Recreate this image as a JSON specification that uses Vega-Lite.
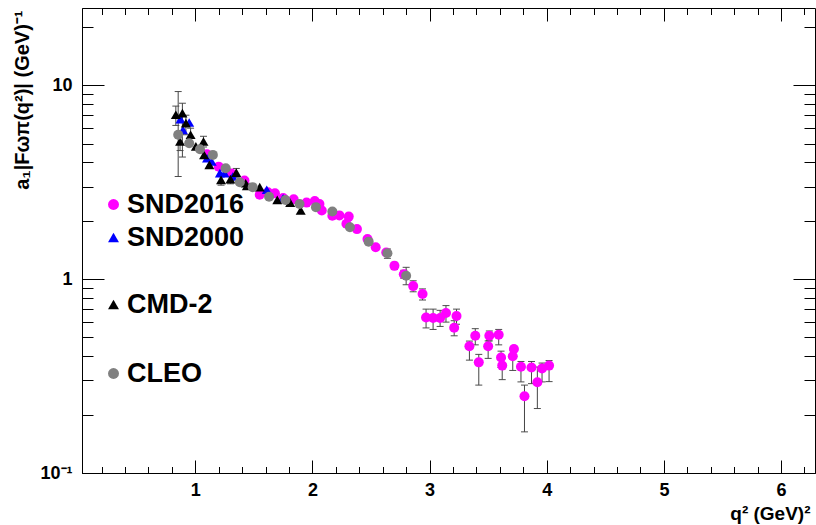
{
  "$schema": "https://vega.github.io/schema/vega-lite/v6.json",
  "width": 733,
  "height": 465,
  "autosize": "none",
  "padding": {"left": 82, "top": 8, "right": 1, "bottom": 52},
  "background": "white",
  "config": {
    "view": {"stroke": "black", "strokeWidth": 1},
    "font": "Liberation Sans",
    "axis": {"domainColor": "black", "tickColor": "black", "grid": false, "labelFont": "Liberation Sans", "labelFontWeight": "bold", "labelColor": "black", "titleFont": "Liberation Sans", "titleFontWeight": "bold", "titleColor": "black", "labelOverlap": false, "labelFlush": false},
    "legend": {"labelFont": "Liberation Sans", "labelFontSize": 27, "labelFontWeight": "bold", "labelColor": "black", "symbolSize": 120, "symbolStrokeWidth": 0, "labelOffset": 0, "padding": 0}
  },
  "data": {"values": [
    {"ds": "SND2016", "q2": 1.10, "F": 4.40},
    {"ds": "SND2016", "q2": 1.20, "F": 3.80},
    {"ds": "SND2016", "q2": 1.31, "F": 3.50},
    {"ds": "SND2016", "q2": 1.42, "F": 3.22},
    {"ds": "SND2016", "q2": 1.55, "F": 2.72},
    {"ds": "SND2016", "q2": 1.62, "F": 2.80},
    {"ds": "SND2016", "q2": 1.68, "F": 2.77},
    {"ds": "SND2016", "q2": 1.75, "F": 2.62},
    {"ds": "SND2016", "q2": 1.84, "F": 2.58},
    {"ds": "SND2016", "q2": 1.95, "F": 2.48},
    {"ds": "SND2016", "q2": 2.02, "F": 2.53},
    {"ds": "SND2016", "q2": 2.06, "F": 2.44},
    {"ds": "SND2016", "q2": 2.08, "F": 2.26},
    {"ds": "SND2016", "q2": 2.17, "F": 2.12},
    {"ds": "SND2016", "q2": 2.23, "F": 2.13},
    {"ds": "SND2016", "q2": 2.31, "F": 2.10},
    {"ds": "SND2016", "q2": 2.29, "F": 1.93},
    {"ds": "SND2016", "q2": 2.38, "F": 1.81},
    {"ds": "SND2016", "q2": 2.47, "F": 1.61},
    {"ds": "SND2016", "q2": 2.54, "F": 1.46},
    {"ds": "SND2016", "q2": 2.63, "F": 1.37},
    {"ds": "SND2016", "q2": 2.70, "F": 1.17, "lo": 1.12, "hi": 1.22},
    {"ds": "SND2016", "q2": 2.78, "F": 1.06, "lo": 1.01, "hi": 1.11},
    {"ds": "SND2016", "q2": 2.86, "F": 0.92, "lo": 0.86, "hi": 0.98},
    {"ds": "SND2016", "q2": 2.94, "F": 0.837, "lo": 0.78, "hi": 0.89},
    {"ds": "SND2016", "q2": 2.97, "F": 0.634, "lo": 0.56, "hi": 0.70},
    {"ds": "SND2016", "q2": 3.03, "F": 0.63, "lo": 0.55, "hi": 0.70},
    {"ds": "SND2016", "q2": 3.09, "F": 0.63, "lo": 0.57, "hi": 0.69},
    {"ds": "SND2016", "q2": 3.14, "F": 0.668, "lo": 0.60, "hi": 0.73},
    {"ds": "SND2016", "q2": 3.23, "F": 0.645, "lo": 0.585, "hi": 0.70},
    {"ds": "SND2016", "q2": 3.21, "F": 0.561, "lo": 0.51, "hi": 0.61},
    {"ds": "SND2016", "q2": 3.34, "F": 0.45, "lo": 0.382, "hi": 0.479},
    {"ds": "SND2016", "q2": 3.39, "F": 0.51, "lo": 0.458, "hi": 0.555},
    {"ds": "SND2016", "q2": 3.42, "F": 0.372, "lo": 0.284, "hi": 0.409},
    {"ds": "SND2016", "q2": 3.51, "F": 0.51, "lo": 0.48, "hi": 0.54},
    {"ds": "SND2016", "q2": 3.50, "F": 0.45, "lo": 0.39, "hi": 0.48},
    {"ds": "SND2016", "q2": 3.59, "F": 0.516, "lo": 0.458, "hi": 0.55},
    {"ds": "SND2016", "q2": 3.61, "F": 0.394, "lo": 0.35, "hi": 0.425},
    {"ds": "SND2016", "q2": 3.62, "F": 0.358, "lo": 0.303, "hi": 0.39},
    {"ds": "SND2016", "q2": 3.72, "F": 0.436, "lo": 0.40, "hi": 0.45},
    {"ds": "SND2016", "q2": 3.71, "F": 0.40, "lo": 0.338, "hi": 0.43},
    {"ds": "SND2016", "q2": 3.78, "F": 0.353, "lo": 0.295, "hi": 0.376},
    {"ds": "SND2016", "q2": 3.81, "F": 0.249, "lo": 0.163, "hi": 0.284},
    {"ds": "SND2016", "q2": 3.87, "F": 0.35, "lo": 0.289, "hi": 0.376},
    {"ds": "SND2016", "q2": 3.92, "F": 0.294, "lo": 0.215, "hi": 0.352},
    {"ds": "SND2016", "q2": 3.96, "F": 0.346, "lo": 0.295, "hi": 0.369},
    {"ds": "SND2016", "q2": 4.02, "F": 0.358, "lo": 0.296, "hi": 0.38},
    {"ds": "SND2000", "q2": 0.874, "F": 6.68},
    {"ds": "SND2000", "q2": 0.895, "F": 5.88},
    {"ds": "SND2000", "q2": 0.948, "F": 6.42},
    {"ds": "SND2000", "q2": 1.10, "F": 4.20},
    {"ds": "SND2000", "q2": 1.14, "F": 4.04},
    {"ds": "SND2000", "q2": 1.21, "F": 3.52},
    {"ds": "SND2000", "q2": 1.25, "F": 3.52},
    {"ds": "SND2000", "q2": 1.32, "F": 3.38},
    {"ds": "SND2000", "q2": 1.61, "F": 2.89},
    {"ds": "SND2000", "q2": 1.75, "F": 2.61},
    {"ds": "CMD-2", "q2": 0.834, "F": 7.04, "lo": 6.2, "hi": 7.8},
    {"ds": "CMD-2", "q2": 0.87, "F": 5.12, "lo": 4.6, "hi": 5.6},
    {"ds": "CMD-2", "q2": 0.89, "F": 7.17, "lo": 4.26, "hi": 8.07},
    {"ds": "CMD-2", "q2": 0.92, "F": 6.37, "lo": 5.55, "hi": 7.0},
    {"ds": "CMD-2", "q2": 0.96, "F": 5.55, "lo": 5.0, "hi": 6.0},
    {"ds": "CMD-2", "q2": 1.005, "F": 4.83},
    {"ds": "CMD-2", "q2": 1.07, "F": 5.12, "lo": 4.8, "hi": 5.45},
    {"ds": "CMD-2", "q2": 1.075, "F": 4.37},
    {"ds": "CMD-2", "q2": 1.12, "F": 3.88},
    {"ds": "CMD-2", "q2": 1.22, "F": 3.25, "lo": 3.05, "hi": 3.45},
    {"ds": "CMD-2", "q2": 1.30, "F": 3.28, "lo": 3.1, "hi": 3.45},
    {"ds": "CMD-2", "q2": 1.35, "F": 3.54, "lo": 3.35, "hi": 3.72},
    {"ds": "CMD-2", "q2": 1.43, "F": 3.12},
    {"ds": "CMD-2", "q2": 1.44, "F": 3.02, "lo": 2.9, "hi": 3.12},
    {"ds": "CMD-2", "q2": 1.55, "F": 2.98},
    {"ds": "CMD-2", "q2": 1.70, "F": 2.56},
    {"ds": "CMD-2", "q2": 1.81, "F": 2.48},
    {"ds": "CMD-2", "q2": 1.90, "F": 2.26},
    {"ds": "CLEO", "q2": 0.854, "F": 5.55, "lo": 3.38, "hi": 9.27},
    {"ds": "CLEO", "q2": 0.948, "F": 5.02},
    {"ds": "CLEO", "q2": 1.04, "F": 4.67},
    {"ds": "CLEO", "q2": 1.15, "F": 4.37},
    {"ds": "CLEO", "q2": 1.26, "F": 3.73},
    {"ds": "CLEO", "q2": 1.38, "F": 3.16},
    {"ds": "CLEO", "q2": 1.49, "F": 2.98},
    {"ds": "CLEO", "q2": 1.63, "F": 2.66},
    {"ds": "CLEO", "q2": 1.77, "F": 2.56},
    {"ds": "CLEO", "q2": 1.89, "F": 2.44},
    {"ds": "CLEO", "q2": 2.03, "F": 2.35},
    {"ds": "CLEO", "q2": 2.17, "F": 2.23},
    {"ds": "CLEO", "q2": 2.32, "F": 1.85},
    {"ds": "CLEO", "q2": 2.48, "F": 1.56},
    {"ds": "CLEO", "q2": 2.64, "F": 1.36, "lo": 1.28, "hi": 1.43},
    {"ds": "CLEO", "q2": 2.80, "F": 1.04, "lo": 0.935, "hi": 1.15}
  ]},
  "layer": [
    {
      "transform": [{"filter": "isValid(datum.lo)"}],
      "mark": {"type": "errorbar", "ticks": {"size": 7, "color": "black"}, "rule": {"color": "#444444"}, "clip": true},
      "encoding": {
        "x": {"field": "q2", "type": "quantitative", "scale": {"type": "linear", "domain": [0.033, 6.29], "nice": false, "zero": false}, "axis": null},
        "y": {"field": "lo", "type": "quantitative", "scale": {"type": "log", "domain": [0.1, 25], "nice": false}, "axis": null},
        "y2": {"field": "hi"}
      }
    },
    {
      "transform": [{"filter": "datum.ds == 'SND2016' || datum.ds == 'SND2000'"}],
      "mark": {"type": "point", "filled": true, "opacity": 1, "size": 100, "clip": true},
      "encoding": {
        "x": {"field": "q2", "type": "quantitative", "scale": {"type": "linear", "domain": [0.033, 6.29], "nice": false, "zero": false},
          "axis": {"orient": "bottom", "values": [0.2,0.4,0.6,0.8,1,1.2,1.4,1.6,1.8,2,2.2,2.4,2.6,2.8,3,3.2,3.4,3.6,3.8,4,4.2,4.4,4.6,4.8,5,5.2,5.4,5.6,5.8,6,6.2],
            "labelExpr": "abs(datum.value - round(datum.value)) < 0.001 ? format(datum.value, 'd') : ''",
            "tickSize": {"condition": {"test": "abs(datum.value - round(datum.value)) < 0.001", "value": -13}, "value": -6.5},
            "labelPadding": 21, "labelFontSize": 18,
            "title": "q² (GeV)²", "titleFontSize": 19, "titleX": 728, "titleY": 50, "titleAlign": "right", "titleBaseline": "bottom", "titleAnchor": null}},
        "y": {"field": "F", "type": "quantitative", "scale": {"type": "log", "domain": [0.1, 25], "nice": false},
          "axis": {"orient": "left", "values": [0.1,0.2,0.3,0.4,0.5,0.6,0.7,0.8,0.9,1,2,3,4,5,6,7,8,9,10,20],
            "labelExpr": "abs(datum.value - 10) < 0.001 ? '10' : abs(datum.value - 1) < 0.001 ? '1' : abs(datum.value - 0.1) < 0.0001 ? '10⁻¹' : ''",
            "tickSize": {"condition": {"test": "abs(log(datum.value)/LN10 - round(log(datum.value)/LN10)) < 0.001", "value": -22}, "value": -11},
            "labelPadding": 32, "labelFontSize": 18,
            "title": "a₁|Fωπ(q²)| (GeV)⁻¹", "titleFontSize": 20, "titleX": -60, "titleY": 2, "titleAngle": -90, "titleAlign": "right", "titleBaseline": "middle", "titleAnchor": null}},
        "color": {"field": "ds", "type": "nominal", "scale": {"domain": ["SND2016", "SND2000"], "range": ["#ff00ff", "#0000ff"]},
          "legend": {"orient": "none", "legendX": 18, "legendY": 183, "rowPadding": 5, "title": null}},
        "shape": {"field": "ds", "type": "nominal", "scale": {"domain": ["SND2016", "SND2000"], "range": ["circle", "triangle-up"]},
          "legend": {"orient": "none", "legendX": 18, "legendY": 183, "rowPadding": 5, "title": null}}
      }
    },
    {
      "transform": [{"filter": "datum.ds == 'CMD-2' || datum.ds == 'CLEO'"}],
      "mark": {"type": "point", "filled": true, "opacity": 1, "size": 100, "clip": true},
      "encoding": {
        "x": {"field": "q2", "type": "quantitative", "scale": {"type": "linear", "domain": [0.033, 6.29], "nice": false, "zero": false},
          "axis": {"orient": "top", "values": [0.2,0.4,0.6,0.8,1,1.2,1.4,1.6,1.8,2,2.2,2.4,2.6,2.8,3,3.2,3.4,3.6,3.8,4,4.2,4.4,4.6,4.8,5,5.2,5.4,5.6,5.8,6,6.2],
            "labels": false, "domain": false, "title": null,
            "tickSize": {"condition": {"test": "abs(datum.value - round(datum.value)) < 0.001", "value": -13}, "value": -6.5}}},
        "y": {"field": "F", "type": "quantitative", "scale": {"type": "log", "domain": [0.1, 25], "nice": false},
          "axis": {"orient": "right", "values": [0.1,0.2,0.3,0.4,0.5,0.6,0.7,0.8,0.9,1,2,3,4,5,6,7,8,9,10,20],
            "labels": false, "domain": false, "title": null,
            "tickSize": {"condition": {"test": "abs(log(datum.value)/LN10 - round(log(datum.value)/LN10)) < 0.001", "value": -22}, "value": -11}}},
        "color": {"field": "ds", "type": "nominal", "scale": {"domain": ["CMD-2", "CLEO"], "range": ["#000000", "#808080"]},
          "legend": {"orient": "none", "legendX": 18, "legendY": 283, "rowPadding": 41, "title": null}},
        "shape": {"field": "ds", "type": "nominal", "scale": {"domain": ["CMD-2", "CLEO"], "range": ["triangle-up", "circle"]},
          "legend": {"orient": "none", "legendX": 18, "legendY": 283, "rowPadding": 41, "title": null}}
      }
    }
  ],
  "resolve": {"scale": {"color": "independent", "shape": "independent"}}
}
